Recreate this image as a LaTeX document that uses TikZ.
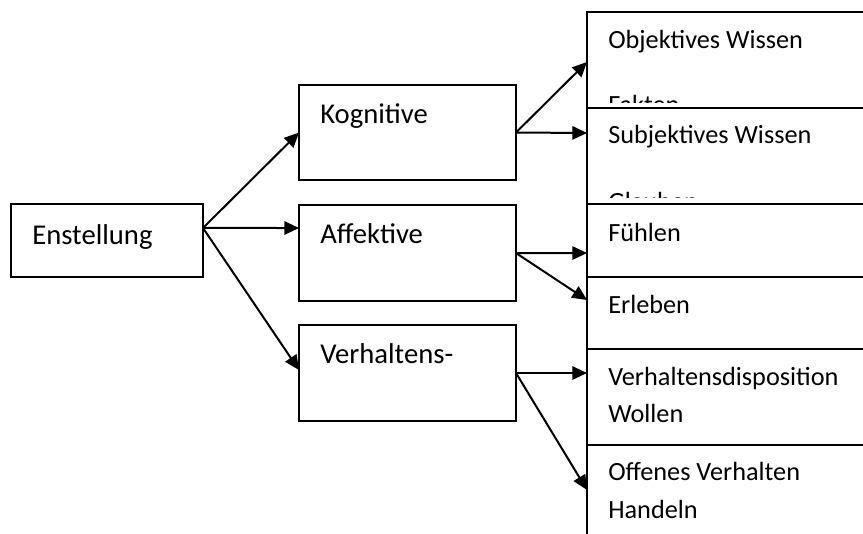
\documentclass[tikz,border=0pt]{standalone}
\usepackage{fontspec}
\setmainfont{Carlito}
\usetikzlibrary{arrows.meta}

\begin{document}
\begin{tikzpicture}[x=0.75pt,y=0.75pt,yscale=-1,xscale=1,
  box/.style={draw,line width=1.5pt,fill=white,inner sep=0pt,outer sep=0pt},
  leftbox/.style={box,minimum width=162.75pt,minimum height=72pt},
  rightbox/.style={box,minimum width=219.75pt},
  bigtxt/.style={anchor=base west,inner sep=0pt,font=\fontsize{21.5pt}{25pt}\selectfont},
  smalltxt/.style={anchor=base west,inner sep=0pt,font=\fontsize{19.7pt}{23pt}\selectfont},
  conn/.style={line width=1.5pt,-{Triangle[length=11pt,width=10pt]}}]
%set diagram window, width 863 and height 533
\clip (0,0) rectangle (863,533);
\fill[white] (0,0) rectangle (863,533);

% left boxes
\node [box,minimum width=144pt,minimum height=54.75pt] (enst) at (107,240.5) {};
\node [leftbox,minimum height=71.25pt] (kog) at (407.5,132.5) {};
\node [leftbox] (aff) at (407.5,253) {};
\node [leftbox] (verh) at (407.5,373) {};

% Text Node
\node [bigtxt] (enstlbl) at (32,244) {Enstellung};
\node [bigtxt] (koglbl) at (320,123) {Kognitive};
\node [bigtxt] (afflbl) at (320,243) {Affektive};
\node [bigtxt] (verhlbl) at (320,363) {Verhaltens-};

% right boxes, each one laid over the one above
\node [rightbox,minimum height=72pt] (obj) at (733.5,60) {};
\node [smalltxt] (objlbl) at (608,48) {Objektives Wissen};
\begin{scope}
\clip (587,0) rectangle (880,102.5);
\node [smalltxt] (faklbl) at (608,113.5) {Fakten};
\end{scope}
\node [rightbox,minimum height=72pt] (subj) at (733.5,156) {};
\node [smalltxt] (subjlbl) at (608,143) {Subjektives Wissen};
\begin{scope}
\clip (587,108) rectangle (880,197.5);
\node [smalltxt] (glalbl) at (608,210) {Glauben};
\end{scope}
\node [rightbox,minimum height=54.75pt] (fuehl) at (733.5,240.5) {};
\node [smalltxt] (fuehllbl) at (608,241) {Fühlen};
\node [rightbox,minimum height=54pt] (erl) at (733.5,313) {};
\node [smalltxt] (erllbl) at (608,313) {Erleben};
\node [rightbox,minimum height=72pt] (wol) at (733.5,397) {};
\node [smalltxt] (dislbl) at (608,385) {Verhaltensdisposition};
\node [smalltxt] (wollbl) at (608,422) {Wollen};
\node [rightbox,minimum height=86.25pt] (hand) at (733.5,502.5) {};
\node [smalltxt] (offlbl) at (608,480) {Offenes Verhalten};
\node [smalltxt] (handlbl) at (608,518) {Handeln};

%Straight Lines
\draw [conn] ([yshift=-9.4pt]enst.east) -- (kog.west);
\draw [conn] ([yshift=-9.4pt]enst.east) -- ([yshift=-18.75pt]aff.west);
\draw [conn] ([yshift=-9.4pt]enst.east) -- ([yshift=-2.25pt]verh.west);
\draw [conn] (kog.east) -- ([yshift=1.5pt]obj.west);
\draw [conn] (kog.east) -- ([yshift=-17.25pt]subj.west);
\draw [conn] (aff.east) -- ([yshift=9.4pt]fuehl.west);
\draw [conn] (aff.east) -- ([yshift=-9.75pt]erl.west);
\draw [conn] (verh.east) -- ([yshift=-18pt]wol.west);
\draw [conn] (verh.east) -- ([yshift=-9.4pt]hand.west);

\end{tikzpicture}
\end{document}
